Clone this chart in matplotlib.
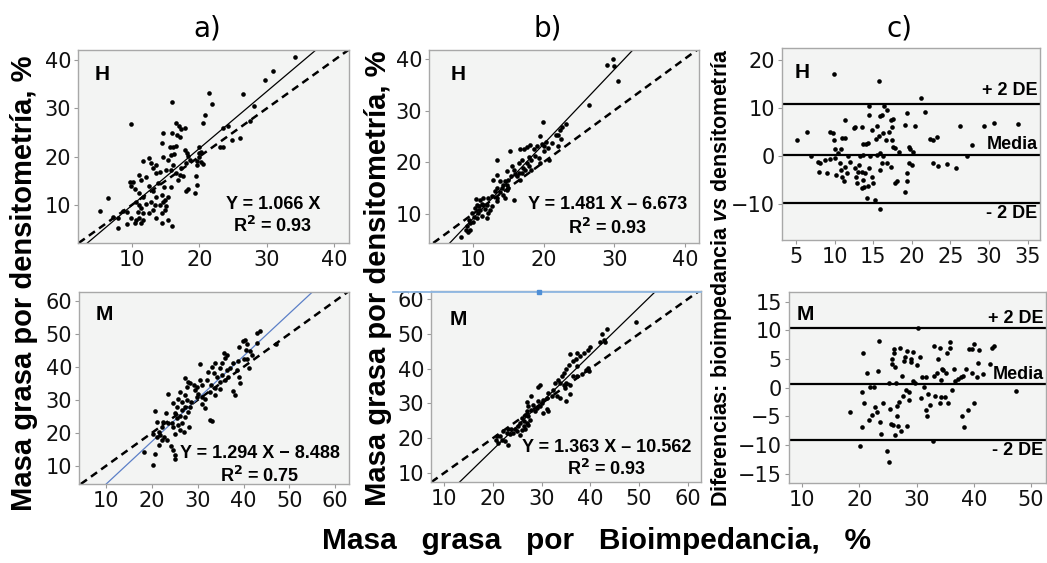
import matplotlib
matplotlib.use("Agg")
import matplotlib.pyplot as plt
from matplotlib.lines import Line2D

plt.rcParams['mathtext.fontset'] = 'custom'
plt.rcParams['mathtext.it'] = 'Liberation Sans:italic:bold'

# a) hombres: bioimpedancia vs densitometria
a_h_x = [34.2, 30.9, 29.7, 26.5, 28.1, 27.5, 26.0, 24.8, 24.2, 23.5,
         23.5, 23.0, 21.4, 21.9, 20.9, 20.5, 19.9, 20.3, 19.9, 19.6,
         20.2, 19.6, 19.5, 19.6, 19.4, 18.0, 18.3, 17.8, 18.1, 18.3,
         18.6, 17.8, 17.3, 16.6, 17.0, 16.7, 17.1, 16.0, 15.9, 14.6,
         14.4, 15.6, 15.8, 16.3, 15.3, 16.1, 15.8, 16.6, 17.1, 17.6,
         16.8, 15.8, 15.3, 14.9, 14.5, 13.6, 13.1, 13.9, 12.6, 12.9,
         11.6, 12.1, 11.4, 11.1, 10.1, 9.7, 9.9, 9.9, 12.6, 13.1,
         13.6, 12.9, 13.4, 14.1, 14.6, 15.1, 14.9, 14.4, 13.6, 12.1,
         11.6, 11.1, 10.6, 11.1, 11.4, 10.9, 11.6, 11.1, 10.6, 10.4,
         11.4, 11.7, 9.2, 8.7, 7.9, 7.9, 9.2, 7.2, 5.2, 6.4,
         14.4, 15.3, 16.0, 9.9, 12.6, 13.1, 10.4, 13.6, 14.6, 15.1,
         14.1, 18.0, 17.3, 20.5, 20.0, 14.8, 16.6, 16.1]
a_h_y = [40.7, 37.8, 35.9, 32.9, 30.5, 27.4, 23.9, 23.4, 26.3, 25.9,
         22.1, 21.9, 33.2, 31.0, 28.6, 27.0, 22.1, 21.0, 20.0, 19.0,
         18.8, 18.3, 15.9, 14.1, 12.4, 12.8, 13.2, 21.4, 20.7, 20.1,
         19.4, 25.9, 25.7, 26.9, 26.3, 24.5, 24.0, 24.8, 31.4, 25.0,
         22.9, 22.1, 20.3, 20.6, 19.3, 18.3, 17.2, 16.7, 16.2, 15.9,
         15.2, 13.8, 11.7, 11.0, 12.1, 16.6, 17.6, 14.6, 19.7, 18.6,
         19.0, 15.7, 15.2, 16.2, 14.8, 14.8, 13.9, 26.8, 13.9, 12.8,
         11.6, 10.7, 10.0, 10.0, 10.7, 9.7, 9.0, 8.3, 7.2, 10.2,
         11.7, 12.4, 10.7, 10.0, 9.3, 8.6, 8.3, 7.2, 6.9, 6.3,
         6.3, 6.8, 8.6, 8.8, 7.2, 5.2, 6.1, 7.4, 8.8, 11.4,
         6.3, 6.8, 5.7, 7.2, 8.3, 9.0, 13.2, 18.3, 20.0, 17.2,
         16.8, 18.6, 17.6, 18.5, 20.7, 13.8, 22.3, 21.9]

# b) hombres: ecuacion corregida vs densitometria
b_h_x = [29.0, 29.9, 30.0, 30.6, 26.5, 19.9, 22.1, 22.3, 23.2, 22.6,
         22.5, 22.0, 20.8, 20.7, 20.0, 19.5, 19.8, 19.1, 18.6, 18.1,
         17.6, 17.2, 16.7, 15.3, 13.4, 18.8, 18.3, 17.9, 19.3, 19.5,
         17.6, 17.1, 16.6, 16.3, 16.9, 17.4, 17.9, 18.3, 15.8, 16.0,
         15.4, 15.0, 14.6, 14.3, 14.8, 14.1, 13.8, 13.9, 14.3, 14.8,
         15.0, 13.4, 12.9, 13.2, 12.7, 12.2, 11.5, 11.0, 10.5, 10.6,
         11.3, 12.0, 12.7, 12.5, 11.7, 11.0, 10.3, 10.8, 10.1, 9.9,
         9.4, 9.6, 9.2, 9.0, 9.3, 8.3, 13.4, 14.6, 15.8, 16.7,
         13.4, 14.9, 15.5, 16.5, 17.0, 20.1, 21.2, 20.4, 21.7, 13.4,
         11.5, 10.9, 12.2, 10.6, 10.0, 11.3, 12.0, 9.6]
b_h_y = [38.8, 39.9, 38.7, 35.7, 31.0, 27.8, 25.2, 26.3, 27.4, 26.8,
         24.5, 23.1, 20.5, 22.8, 23.1, 25.0, 23.5, 23.1, 22.6, 23.3,
         22.9, 22.6, 22.5, 22.1, 20.5, 21.2, 20.5, 21.0, 20.8, 19.9,
         19.9, 18.9, 17.9, 17.3, 17.9, 18.6, 19.2, 18.6, 18.6, 17.8,
         17.3, 16.6, 16.3, 15.7, 15.7, 15.0, 16.3, 14.2, 13.7, 14.6,
         15.0, 15.0, 16.6, 14.4, 13.4, 13.1, 13.1, 12.8, 13.0, 11.8,
         12.0, 11.8, 11.5, 10.7, 11.0, 10.8, 11.2, 10.2, 9.5, 10.2,
         8.9, 8.3, 7.6, 7.0, 6.6, 5.5, 12.5, 13.1, 12.8, 16.6,
         17.6, 18.3, 19.2, 19.9, 20.5, 22.1, 23.7, 24.0, 25.3, 13.1,
         11.8, 11.5, 10.2, 9.2, 8.4, 9.7, 9.2, 7.0]

# c) hombres: Bland-Altman
c_h_x = [5.1, 6.4, 6.9, 9.9, 9.4, 9.8, 9.9, 10.0, 7.9, 8.1,
         8.0, 8.8, 9.0, 9.4, 10.0, 10.2, 10.4, 10.8, 11.0, 11.4,
         11.3, 10.7, 10.8, 11.0, 11.2, 11.4, 11.6, 11.8, 12.0, 12.5,
         12.7, 12.9, 12.7, 12.8, 13.1, 13.2, 13.3, 13.7, 13.6, 13.7,
         14.1, 14.3, 13.5, 13.7, 13.5, 13.8, 14.0, 14.4, 14.3, 14.2,
         14.4, 14.5, 14.6, 14.8, 15.0, 15.2, 15.9, 14.9, 15.5, 15.4,
         15.7, 15.9, 16.1, 15.8, 15.5, 15.9, 16.3, 16.1, 16.8, 15.9,
         16.3, 16.7, 16.4, 16.8, 17.0, 17.3, 17.6, 17.4, 17.5, 17.6,
         17.8, 18.3, 17.3, 17.8, 18.1, 19.4, 19.1, 19.4, 19.4, 19.1,
         19.6, 19.8, 19.6, 20.0, 20.2, 20.4, 21.2, 21.7, 22.4, 22.8,
         23.3, 22.8, 23.4, 24.6, 25.7, 26.2, 27.1, 27.8, 29.3, 30.6,
         33.8]
c_h_y = [3.3, 4.9, 0.1, 17.1, 5.1, 4.7, 3.3, 1.4, -1.2, -1.5,
         -3.3, -0.8, -3.6, -0.7, -0.5, -4.0, 0.6, 1.4, 3.7, 3.7,
         7.5, -1.5, -2.9, -4.3, -5.3, -2.2, -3.6, -0.1, -1.2, 5.8,
         6.1, -5.6, -2.6, -4.3, -3.3, -1.9, -0.1, 0.2, 6.0, 2.6,
         2.5, 2.8, -3.3, -5.0, -6.7, -6.4, -3.6, -2.4, -6.3, -8.8,
         8.5, 10.4, -0.1, -4.3, -5.6, -9.2, -11.1, 5.4, 6.3, 3.5,
         4.2, 8.3, 8.5, 15.7, 0.2, 0.7, -0.1, -1.5, -1.5, -2.9,
         4.7, 3.3, 10.4, 9.6, 5.1, 7.5, 7.8, 6.1, 3.3, 1.9,
         1.6, 0.9, -2.2, -5.6, -5.3, 8.9, 6.5, -3.6, -5.3, -7.6,
         1.9, 1.4, -1.5, -1.9, 0.9, 6.3, 12.0, 9.2, 3.5, 3.3,
         4.0, -1.5, -2.1, -1.7, -2.4, 6.3, -0.1, 2.2, 6.3, 6.8,
         6.6]

# a) mujeres
a_m_x = [43.6, 42.9, 42.9, 47.1, 40.3, 39.8, 40.7, 39.1, 40.5, 41.4,
         41.8, 40.8, 40.1, 38.7, 37.8, 39.1, 39.3, 37.8, 38.2, 36.3,
         35.8, 36.0, 35.3, 33.8, 34.9, 36.3, 37.1, 35.3, 36.7, 36.0,
         34.9, 34.2, 33.1, 32.3, 33.5, 32.0, 32.9, 33.8, 32.7, 34.9,
         33.8, 30.4, 30.6, 30.9, 29.8, 29.1, 28.3, 29.4, 30.1, 30.9,
         31.6, 30.9, 31.6, 32.7, 33.1, 27.6, 27.2, 27.6, 26.5, 27.2,
         28.6, 28.3, 27.9, 26.1, 25.8, 25.4, 26.5, 26.1, 27.2, 25.0,
         25.4, 26.5, 25.8, 24.7, 25.0, 26.1, 26.9, 28.2, 23.6, 23.1,
         22.5, 23.6, 22.2, 21.6, 20.6, 21.1, 20.3, 21.1, 21.8, 22.7,
         23.2, 22.2, 21.6, 24.1, 24.7, 25.0, 25.0, 20.6, 18.3, 20.2,
         24.3, 24.7, 29.8, 27.2, 27.9, 38.5, 41.1]
a_m_y = [50.9, 50.2, 47.1, 46.9, 48.2, 47.7, 46.9, 45.9, 45.1, 44.9,
         43.6, 42.3, 42.3, 41.9, 41.1, 37.0, 35.0, 32.8, 31.5, 43.6,
         44.1, 42.6, 41.1, 41.1, 39.6, 39.0, 39.6, 37.5, 37.0, 36.0,
         35.5, 37.0, 40.1, 38.5, 38.0, 36.0, 34.5, 33.5, 32.5, 33.2,
         31.5, 40.8, 36.0, 34.5, 34.0, 34.5, 35.0, 33.0, 31.8, 31.0,
         30.4, 28.9, 27.4, 23.9, 23.7, 33.9, 31.5, 29.9, 29.4, 27.9,
         29.4, 27.9, 26.4, 32.5, 30.4, 27.9, 26.9, 25.1, 24.9, 26.1,
         24.4, 22.9, 22.3, 21.8, 19.8, 20.8, 20.3, 21.8, 31.8, 26.1,
         23.4, 22.9, 21.8, 20.3, 26.7, 23.4, 19.8, 18.8, 19.3, 18.8,
         17.8, 17.8, 16.3, 16.0, 14.8, 13.2, 12.2, 13.7, 14.3, 10.2,
         22.9, 29.0, 31.0, 36.5, 35.5, 39.0, 39.6]

# b) mujeres
b_m_x = [49.4, 43.4, 42.3, 42.7, 43.0, 42.0, 39.9, 39.6, 38.6, 37.9,
         37.1, 35.8, 36.5, 35.7, 37.2, 39.6, 39.8, 39.2, 38.2, 37.3,
         36.5, 35.1, 34.5, 34.1, 33.4, 32.7, 33.8, 34.5, 35.1, 35.8,
         34.8, 32.4, 31.4, 32.1, 33.1, 33.8, 34.9, 31.0, 30.3, 29.7,
         29.3, 30.0, 29.3, 29.7, 29.0, 28.3, 27.9, 28.6, 31.0, 31.4,
         27.3, 26.9, 26.6, 27.3, 27.6, 26.9, 25.9, 26.3, 25.5, 25.2,
         26.3, 27.3, 24.5, 23.8, 23.2, 22.8, 23.5, 24.2, 24.9, 22.1,
         21.4, 20.8, 20.6, 21.8, 22.5, 23.2, 21.1, 26.6, 25.9, 25.5,
         27.9, 26.9, 35.8, 37.2, 30.3]
b_m_y = [53.4, 51.4, 49.8, 48.3, 47.5, 47.5, 46.2, 45.4, 44.5, 43.5,
         42.8, 44.3, 42.1, 41.1, 40.7, 40.2, 39.2, 39.7, 38.3, 37.8,
         38.0, 39.9, 38.7, 37.8, 36.8, 35.9, 35.9, 35.4, 35.9, 35.4,
         34.4, 33.9, 33.0, 32.0, 32.2, 31.6, 30.8, 31.6, 31.1, 35.4,
         34.7, 30.2, 30.6, 29.2, 28.7, 29.6, 28.2, 27.7, 28.4, 27.7,
         29.2, 27.7, 26.8, 26.3, 25.3, 24.4, 25.8, 24.9, 24.4, 23.4,
         23.4, 23.9, 22.6, 22.5, 22.6, 21.5, 21.3, 21.5, 22.0, 22.0,
         20.7, 20.5, 19.4, 19.6, 19.1, 18.1, 18.7, 22.5, 22.3, 21.0,
         32.0, 30.5, 32.6, 44.5, 27.2]

# c) mujeres: Bland-Altman
c_m_x = [18.3, 20.1, 20.4, 20.6, 20.4, 20.8, 21.3, 21.6, 21.9, 22.2,
         22.6, 22.8, 23.0, 23.2, 23.4, 23.6, 23.7, 24.2, 24.8, 25.1,
         25.2, 25.4, 25.5, 25.7, 25.7, 25.8, 26.0, 26.1, 26.2, 26.2,
         26.4, 26.5, 26.6, 26.8, 27.0, 27.1, 27.2, 27.4, 27.6, 27.8,
         28.0, 28.1, 28.3, 28.4, 28.6, 28.7, 29.0, 29.1, 29.4, 29.4,
         29.7, 30.1, 30.3, 30.6, 30.7, 31.0, 31.3, 31.6, 31.7, 31.8,
         32.0, 32.3, 32.9, 33.0, 33.0, 33.2, 33.5, 33.8, 34.0, 34.1,
         34.2, 34.3, 34.5, 34.6, 34.9, 35.2, 35.3, 35.5, 35.8, 35.9,
         36.1, 36.5, 36.7, 37.2, 37.7, 37.9, 38.1, 38.2, 38.7, 39.0,
         39.2, 39.6, 39.7, 40.0, 40.1, 40.5, 40.7, 40.9, 41.6, 42.8,
         43.2, 43.5, 47.3]
c_m_y = [-4.3, -10.2, -0.8, 6.1, -6.9, -2.6, 2.5, -5.7, 0.2, -4.7,
         0.2, -3.4, -4.3, 3.0, 8.2, -5.9, -8.1, -2.6, -11.1, -12.9,
         0.8, -3.7, -6.3, 5.0, 4.1, -6.5, 6.7, 6.0, 3.7, -8.2,
         0.8, -3.2, -5.0, -6.7, -2.4, 7.0, -7.5, 2.0, -1.4, 4.7,
         5.4, -0.4, -6.6, 6.5, -0.7, -2.2, 5.1, 4.5, 6.3, 1.1,
         0.9, 4.0, 10.5, 5.4, -1.7, 1.8, 0.2, 1.8, -3.9, -5.0,
         -1.1, -3.0, -9.2, 7.3, 2.1, -1.4, 2.5, 5.0, -2.7, 6.9,
         1.4, -1.6, 3.2, 3.1, -1.6, 2.5, 6.0, -2.7, 7.9, 7.0,
         -0.3, 3.2, 1.2, 1.6, 1.9, -5.0, 2.0, -6.8, 3.2, -3.8,
         6.7, 2.5, 6.7, -2.6, 7.7, 1.8, 4.4, 6.6, 2.4, 4.1,
         7.0, 7.3, -0.5]

# regresion dibujada (pendiente, ordenada) y limites de acuerdo (+2DE, media, -2DE)
fit_a_h = (1.18, -1.9)
fit_b_h = (1.44, -5.3)
fit_a_m = (1.294, -8.488)
fit_b_m = (1.363, -10.562)
ba_h = (10.9, 0.3, -9.8)
ba_m = (10.5, 0.6, -9.1)

W, H = 1047, 563
fig = plt.figure(figsize=(W / 100, H / 100), dpi=100)
BG = '#F3F4F3'
BOLD = 'Liberation Sans'


def box(px):
    l, t, r, b = px
    return [l / W, 1 - b / H, (r - l) / W, (b - t) / H]


def style(ax, xlim, ylim, xt, yt):
    ax.set_facecolor(BG)
    ax.set_xlim(xlim)
    ax.set_ylim(ylim)
    ax.set_xticks(xt)
    ax.set_yticks(yt)
    for s in ax.spines.values():
        s.set_color('#A8A8A8')
        s.set_linewidth(1)
    ax.tick_params(direction='out', length=3, width=0.8, color='#999999',
                   labelsize=15, labelcolor='#111111', pad=2)


def scatter_panel(px, x, y, fit, xlim, ylim, ticks, tag, eq, r2, eqpos, tagpos,
                  fitcolor='black'):
    ax = fig.add_axes(box(px))
    style(ax, xlim, ylim, ticks, ticks)
    ax.axline((0, 0), slope=1, color='black', lw=1.8, ls=(0, (3, 2)), zorder=2)
    ax.axline((0, fit[1]), slope=fit[0], color=fitcolor, lw=0.9, zorder=2)
    ax.scatter(x, y, s=11, color='black', zorder=3, linewidths=0)
    ax.text(tagpos[0], tagpos[1], tag, transform=ax.transAxes, family=BOLD,
            weight='bold', fontsize=15, ha='left', va='top')
    ax.text(eqpos[0], eqpos[1], eq, transform=ax.transAxes, family=BOLD,
            weight='bold', fontsize=13, ha='center', va='center', zorder=4)
    ax.text(eqpos[0], eqpos[2], r2, transform=ax.transAxes, family=BOLD,
            weight='bold', fontsize=13, ha='center', va='center', zorder=4)
    return ax


def ba_panel(px, x, y, lims, xlim, ylim, xt, yt, tag, tagpos, labpos):
    ax = fig.add_axes(box(px))
    style(ax, xlim, ylim, xt, yt)
    for v in lims:
        ax.axhline(v, color='black', lw=1.6, zorder=2)
    ax.scatter(x, y, s=11, color='black', zorder=3, linewidths=0)
    ax.text(tagpos[0], tagpos[1], tag, transform=ax.transAxes, family=BOLD,
            weight='bold', fontsize=15, ha='left', va='top')
    for lab, yy in zip(['+ 2 DE', 'Media', '- 2 DE'], labpos):
        ax.text(0.99, yy, lab, transform=ax.transAxes, family=BOLD,
                weight='bold', fontsize=13, ha='right', va='center', zorder=4)
    return ax


t40 = [10, 20, 30, 40]
t60 = [10, 20, 30, 40, 50, 60]

scatter_panel((78, 50, 349, 243), a_h_x, a_h_y, fit_a_h, (2, 42.2), (2.1, 42.1),
              t40, 'H', 'Y = 1.066 X', 'R$^{\\mathbf{2}}$ = 0.93',
              (0.72, 0.20, 0.09), (0.06, 0.92))
scatter_panel((429, 50, 699, 243), b_h_x, b_h_y, fit_b_h, (3.8, 42), (4.4, 41.7),
              t40, 'H', 'Y = 1.481 X \u2013 6.673', 'R$^{\\mathbf{2}}$ = 0.93',
              (0.66, 0.20, 0.08), (0.08, 0.92))
ba_panel((782, 48, 1040, 240), c_h_x, c_h_y, ba_h, (3.2, 36.6), (-17.5, 22.5),
         [5, 10, 15, 20, 25, 30, 35], [-10, 0, 10, 20], 'H', (0.05, 0.92),
         (0.78, 0.495, 0.14))
scatter_panel((79, 292, 349, 484), a_m_x, a_m_y, fit_a_m, (4.1, 63), (4.5, 62.7),
              t60, 'M', 'Y = 1.294 X \u2212 8.488', 'R$^{\\mathbf{2}}$ = 0.75',
              (0.67, 0.16, 0.04), (0.06, 0.93), fitcolor='#5B7FC7')
scatter_panel((431, 291, 701, 482), b_m_x, b_m_y, fit_b_m, (7.3, 62.7), (7.4, 62.3),
              t60, 'M', 'Y = 1.363 X \u2013 10.562', 'R$^{\\mathbf{2}}$ = 0.93',
              (0.65, 0.18, 0.07), (0.07, 0.90))
ba_panel((789, 292, 1046, 483), c_m_x, c_m_y, ba_m, (7.7, 52.6), (-16.6, 16.7),
         [10, 20, 30, 40, 50], [-15, -10, -5, 0, 5, 10, 15], 'M', (0.03, 0.93),
         (0.86, 0.57, 0.17))

# linea azul suelta arriba del panel b) M
fig.add_artist(Line2D([393 / W, 701 / W], [1 - 292 / H] * 2, color='#8FB8E3', lw=1.3))
fig.add_artist(Line2D([539 / W], [1 - 292 / H], marker='s', ms=3.5, color='#4F8FD6'))

for lab, xp in [('a)', 207), ('b)', 548), ('c)', 900)]:
    fig.text(xp / W, 1 - 28 / H, lab, fontsize=20, ha='center', va='center')

ylab = 'Masa grasa por densitometría, %'
fig.text(24 / W, 1 - 283 / H, ylab, rotation=90, family=BOLD, weight='bold',
         fontsize=21, ha='center', va='center')
fig.text(378 / W, 1 - 278 / H, ylab, rotation=90, family=BOLD, weight='bold',
         fontsize=21, ha='center', va='center')
fig.text(721 / W, 1 - 278 / H, 'Diferencias: bioimpedancia $\\it{vs}$ densitometría',
         rotation=90, family=BOLD, weight='bold', fontsize=15.5, ha='center', va='center')
fig.text(597 / W, 1 - 541 / H, 'Masa   grasa   por   Bioimpedancia,   %',
         family=BOLD, weight='bold', fontsize=21.5, ha='center', va='center')

fig.savefig('out.png', dpi=100)
